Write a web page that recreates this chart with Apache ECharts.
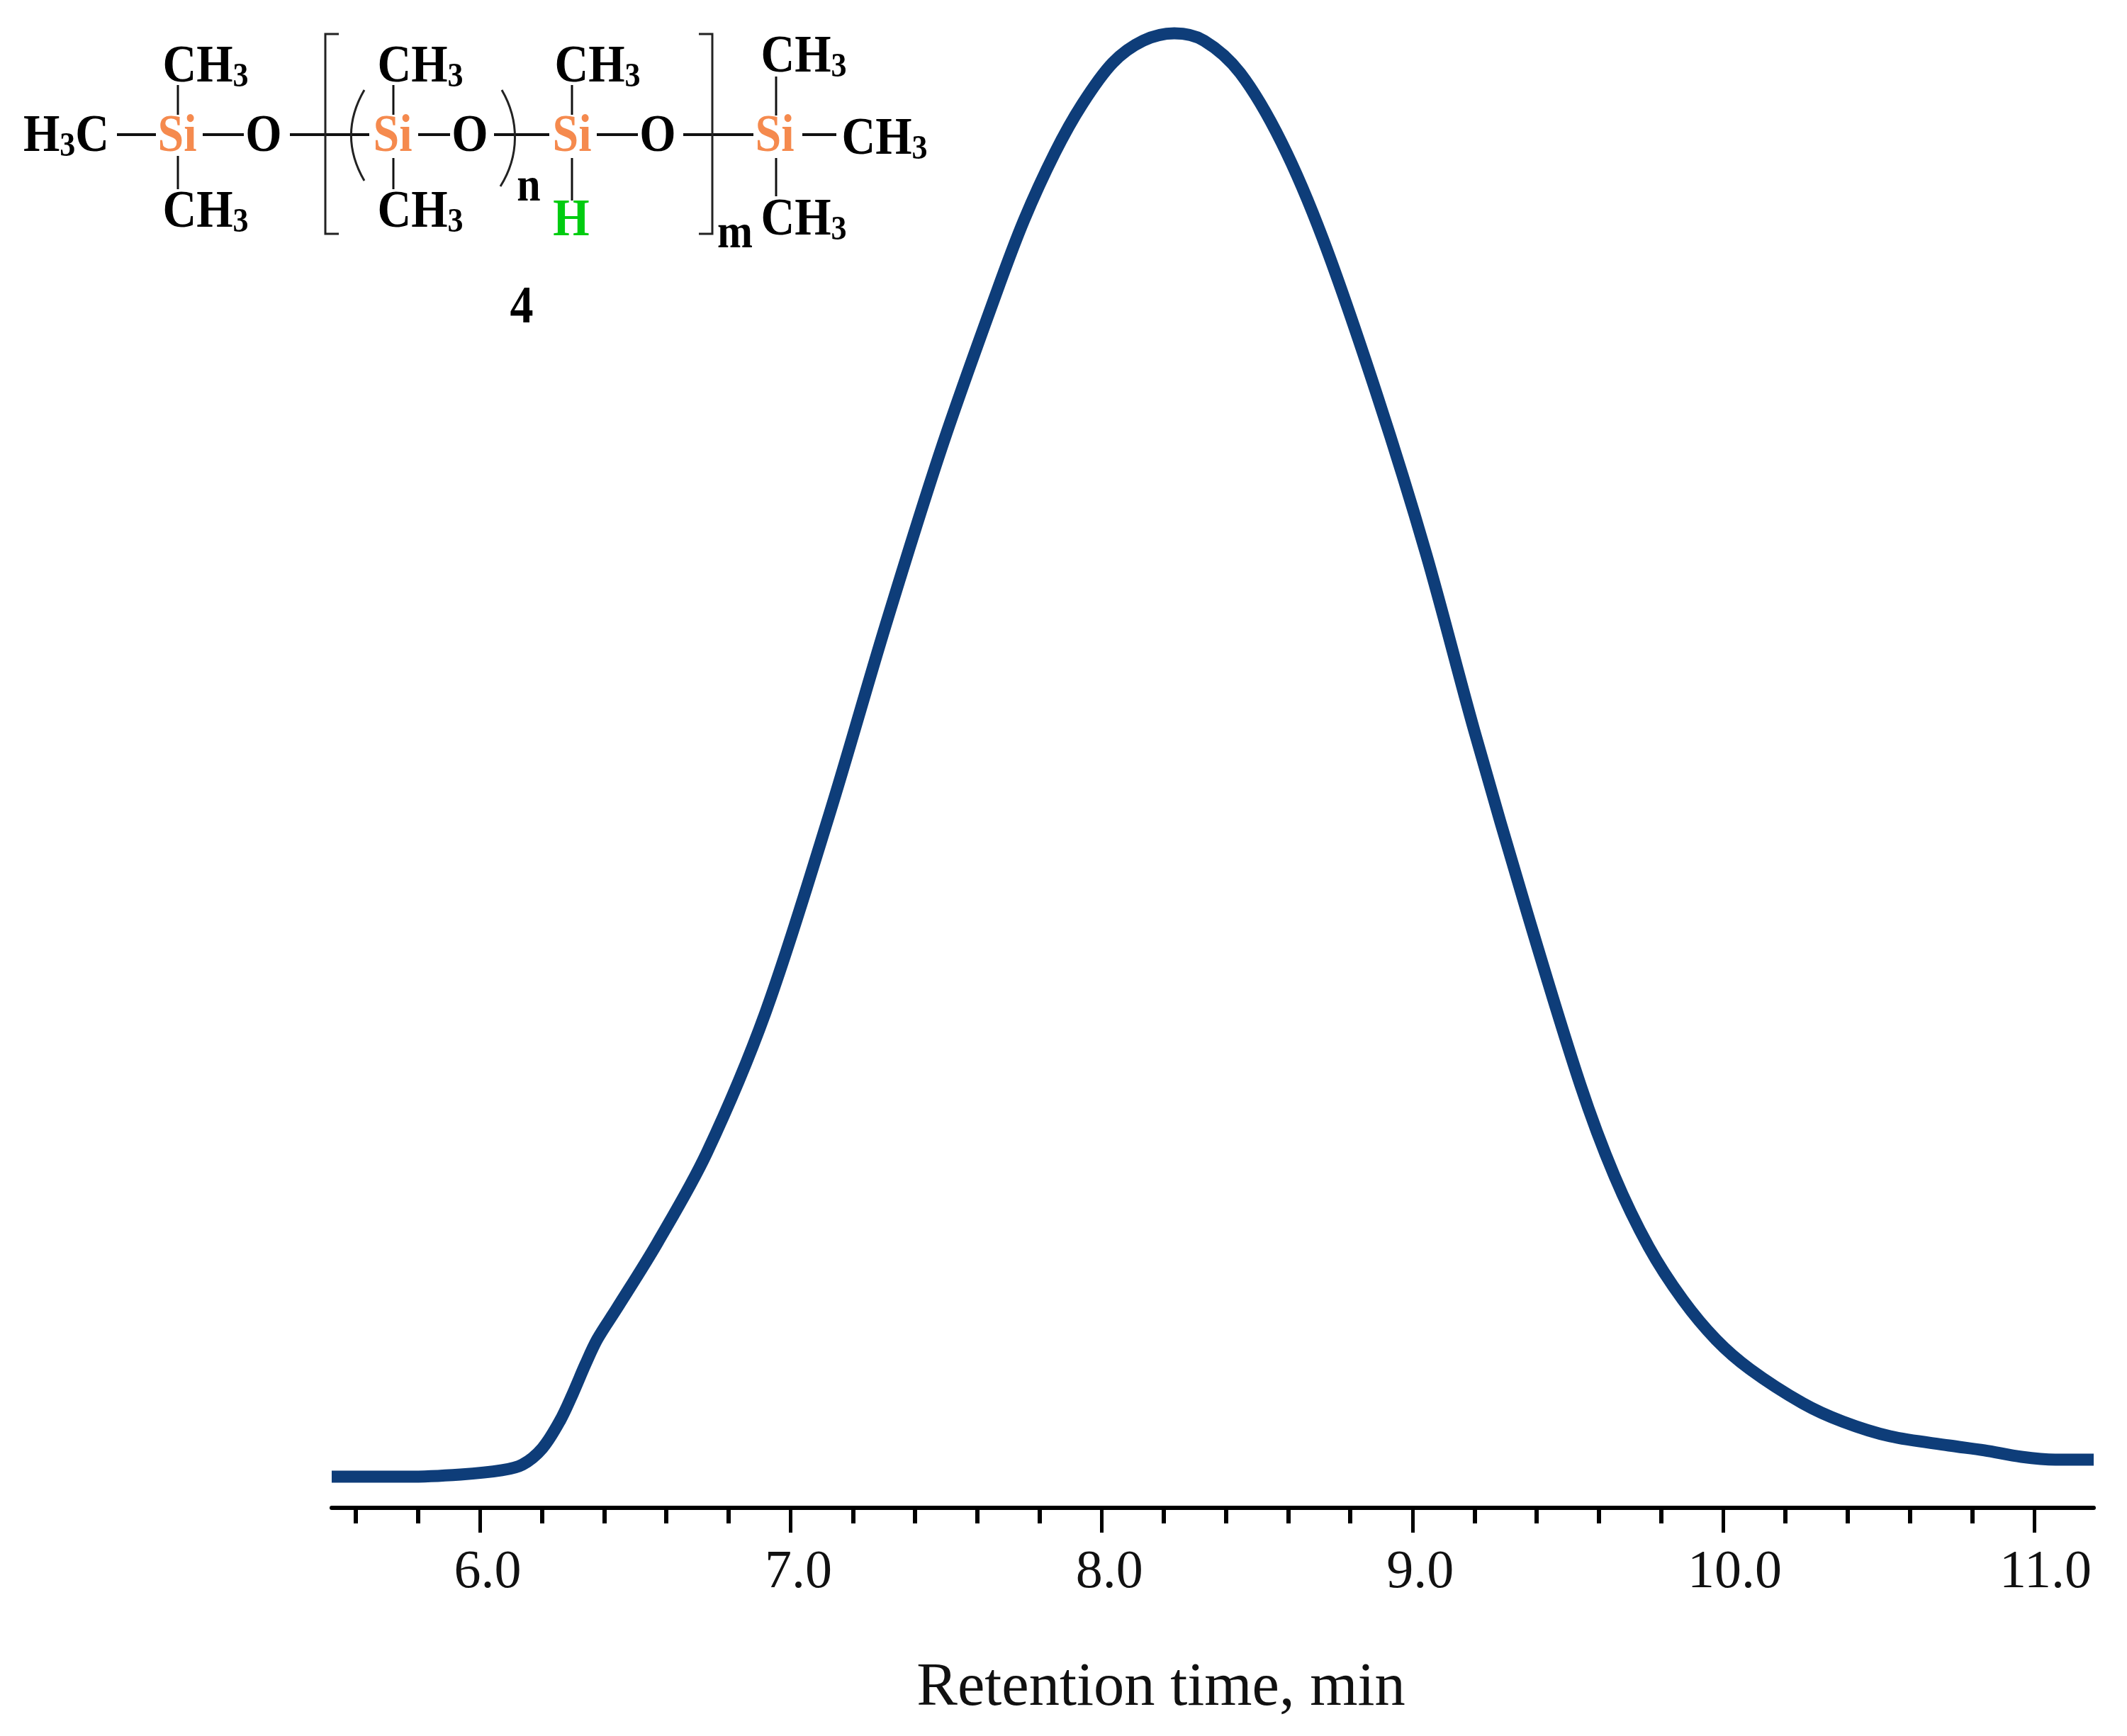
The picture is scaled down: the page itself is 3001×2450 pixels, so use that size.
<!DOCTYPE html>
<html><head><meta charset="utf-8">
<style>html,body{margin:0;padding:0;background:#fff}#c{width:3001px;height:2450px}</style>
<script src="https://cdn.jsdelivr.net/npm/echarts@6/dist/echarts.min.js"></script>
</head><body><div id="c"></div>
<script>
const retentionTime=[5.5235,5.767,5.938,6.071,6.137,6.201,6.258,6.299,6.34,6.378,6.44,6.572,6.73,6.919,7.124,7.306,7.484,7.66,7.75,7.85,7.938,8.036,8.134,8.234,8.33,8.446,8.579,8.713,8.887,9.044,9.199,9.37,9.54,9.65,9.76,9.87,9.977,10.086,10.255,10.384,10.537,10.726,10.84,10.959,11.068,11.1915];
const signal=[2.11,2.11,2.26,2.55,2.93,4.04,5.91,7.74,9.75,11.44,13.5,18,24.07,33.6,47,59.9,71.8,82.3,87.3,91.9,95.2,98,99.5,100,99.5,97.3,92.6,86,75.4,64.7,52.7,40.3,28.7,22.5,17.7,14.1,11.4,9.4,7.1,5.85,4.85,4.23,3.9,3.46,3.27,3.27];
const majorTicks=[6,7,8,9,10,11];
const minorTicks=[5.6,5.8,6.2,6.4,6.6,6.8,7.2,7.4,7.6,7.8,8.2,8.4,8.6,8.8,9.2,9.4,9.6,9.8,10.2,10.4,10.6,10.8];
const axisTitle='Retention time, min';

const SERIF='"Liberation Serif","Times New Roman",serif';
const ORANGE='#F58A4E',GREEN='#00CC10';
const SY=1.12;
function label(x,y,text,color,size){return {type:'text',x:x,y:y,scaleY:SY,style:{text:text,fill:color||'#000',font:'bold '+(size||66)+'px '+SERIF,textAlign:'center',textVerticalAlign:'middle'}};}
function ch3(cx,y){
  return {type:'text',x:cx,y:y,scaleY:SY,style:{text:'{a|CH}{b|3}',textAlign:'center',textVerticalAlign:'middle',
    rich:{a:{font:'bold 66px '+SERIF,fill:'#000',lineHeight:70,verticalAlign:'middle'},
          b:{font:'bold 44px '+SERIF,fill:'#000',padding:[24,0,0,0],lineHeight:70}}}};
}
function bond(x1,y1,x2,y2,w){return {type:'line',shape:{x1,y1,x2,y2},style:{stroke:'#111',lineWidth:w||3}};}
const structure=[
 bond(165,190,220,190,4),bond(286,190,344,190,4),bond(409,190,521,190,4),
 bond(590,190,635,190,4),bond(697,190,775,190,4),bond(842,190,900,190,4),bond(964,190,1063,190,4),bond(1132,190,1180,190,4),
 bond(251,120,251,162),bond(251,220,251,267),
 bond(555,120,555,162),bond(555,223,555,267),
 bond(807,120,807,162),bond(807,223,807,283),
 bond(1095,108,1095,163),bond(1095,223,1095,277),
 {type:'polyline',shape:{points:[[478,48],[459,48],[459,330],[478,330]]},style:{stroke:'#222',lineWidth:3,fill:null}},
 {type:'polyline',shape:{points:[[986,48],[1005,48],[1005,330],[986,330]]},style:{stroke:'#222',lineWidth:3,fill:null}},
 {type:'bezierCurve',shape:{x1:514,y1:127,cpx1:489,cpy1:170,cpx2:489,cpy2:212,x2:514,y2:255},style:{stroke:'#222',lineWidth:3,fill:null}},
 {type:'bezierCurve',shape:{x1:708,y1:127,cpx1:733,cpy1:170,cpx2:733,cpy2:220,x2:706,y2:263},style:{stroke:'#222',lineWidth:3,fill:null}},
 {type:'text',x:33,y:194,scaleY:SY,style:{text:'{a|H}{b|3}{a|C}',textAlign:'left',textVerticalAlign:'middle',
   rich:{a:{font:'bold 66px '+SERIF,fill:'#000',lineHeight:70},b:{font:'bold 44px '+SERIF,fill:'#000',padding:[24,0,0,0],lineHeight:70}}}},
 label(250,194,'Si',ORANGE),label(554,194,'Si',ORANGE),label(807,194,'Si',ORANGE),label(1093,194,'Si',ORANGE),
 label(372,194,'O'),label(663,194,'O'),label(928,194,'O'),
 ch3(290,96),ch3(290,301),ch3(593,96),ch3(593,301),ch3(843,96),ch3(1134,82),ch3(1134,312),ch3(1248,198),
 label(806,313,'H',GREEN),
 label(746,266,'n',null,60),label(1037,332,'m',null,60),
 label(736,436,'4')
];

const chart=echarts.init(document.getElementById('c'),null,{renderer:'canvas'});
const grid={left:468,right:47,top:47,bottom:322,containLabel:false};
const labelFmt=v=>v>=10?`{w|${v.toFixed(1)}}`:`{s|${v.toFixed(1)}}`;
const labelFont={fontFamily:SERIF,fontSize:76,color:'#111'};
chart.setOption({
 animation:false,backgroundColor:'#fff',
 grid:grid,
 xAxis:[{type:'value',min:5.5235,max:11.1915,position:'bottom',
   name:axisTitle,nameLocation:'middle',nameGap:212,
   nameTextStyle:{fontFamily:SERIF,fontSize:86.5,color:'#111',padding:[0,146,0,0]},
   axisLine:{show:true,lineStyle:{color:'#000',width:6}},
   axisTick:{show:true,length:35,inside:false,customValues:majorTicks,lineStyle:{color:'#000',width:5}},
   axisLabel:{show:true,customValues:majorTicks,margin:54,showMinLabel:true,showMaxLabel:true,hideOverlap:false,
     formatter:labelFmt,rich:{s:Object.assign({padding:[0,0,0,22]},labelFont),w:Object.assign({padding:[0,0,0,32]},labelFont)}},
   splitLine:{show:false}},
  {type:'value',min:5.5235,max:11.1915,position:'bottom',
   axisLine:{show:false},
   axisTick:{show:true,length:22,customValues:minorTicks,lineStyle:{color:'#000',width:6}},
   axisLabel:{show:false},splitLine:{show:false}}],
 yAxis:{type:'value',min:0,max:100,show:false},
 graphic:structure,
 series:[{type:'line',xAxisIndex:0,data:retentionTime.map((t,i)=>[t,signal[i]]),smooth:0.33,showSymbol:false,symbol:'none',clip:false,
   lineStyle:{color:'#0E3D79',width:17,cap:'butt',join:'round'}}]
});
</script></body></html>
